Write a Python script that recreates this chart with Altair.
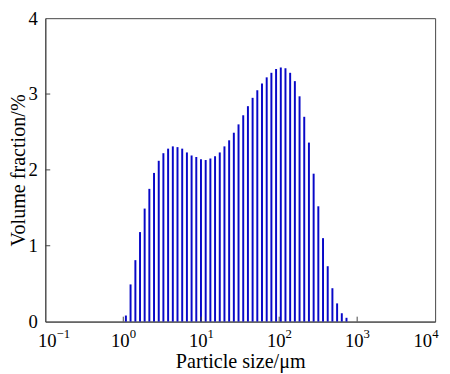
import altair as alt
import pandas as pd

# Particle size bins (µm) and volume fraction (%)
sizes = [1.08, 1.24, 1.43, 1.64, 1.88, 2.16, 2.48, 2.85, 3.27, 3.76,
         4.32, 4.96, 5.70, 6.55, 7.52, 8.64, 9.92, 11.40, 13.10, 15.04,
         17.28, 19.85, 22.80, 26.19, 30.08, 34.56, 39.70, 45.60, 52.38, 60.16,
         69.12, 79.40, 91.20, 104.8, 120.3, 138.2, 158.8, 182.4, 209.5, 240.6,
         276.5, 317.6, 364.8, 419.0, 481.3, 553.0, 635.2, 729.7]
fractions = [0.08, 0.49, 0.81, 1.18, 1.49, 1.75, 1.96, 2.12, 2.22, 2.28,
             2.31, 2.30, 2.28, 2.23, 2.19, 2.17, 2.14, 2.13, 2.15, 2.18,
             2.23, 2.31, 2.39, 2.49, 2.60, 2.72, 2.84, 2.95, 3.05, 3.14,
             3.22, 3.28, 3.33, 3.35, 3.34, 3.28, 3.17, 2.97, 2.70, 2.36,
             1.95, 1.52, 1.10, 0.73, 0.44, 0.24, 0.11, 0.05]

x_ticks = [0.1, 1, 10, 100, 1000, 10000]
x_tick_exponents = ["−1", "0", "1", "2", "3", "4"]
x_tick_pos = ["first", "mid", "mid", "mid", "mid", "last"]
y_ticks = [0, 1, 2, 3, 4]
x_inner_ticks = [1, 10, 100, 1000]
y_inner_ticks = [1, 2, 3]

W, H = 397, 309
FONT = "Liberation Serif"
AX = "#444444"
LBL = 19
EXP = 13

df = pd.DataFrame({"size": sizes, "frac": fractions})
tick_df = pd.DataFrame({"v": x_ticks, "e": x_tick_exponents, "p": x_tick_pos})

xscale = alt.Scale(type="log", domain=[0.1, 10000], nice=False)
yscale = alt.Scale(domain=[0, 4], nice=False)

bars = alt.Chart(df).mark_rule(color="#0808c8", strokeWidth=2).encode(
    x=alt.X("size:Q", scale=xscale,
            axis=alt.Axis(values=x_ticks, labels=False, ticks=False,
                          grid=False, title="Particle size/μm",
                          titlePadding=31, domainColor=AX)),
    y=alt.Y("frac:Q", scale=yscale,
            axis=alt.Axis(values=y_ticks, format="d", ticks=False, grid=False,
                          title="Volume fraction/%", labelPadding=8,
                          titlePadding=0, domainColor=AX)),
    y2=alt.datum(0),
)

xt = alt.Chart(pd.DataFrame({"v": x_inner_ticks})).mark_rule(color=AX, strokeWidth=1).encode(
    x=alt.X("v:Q", scale=xscale),
    y=alt.value(H),
    y2=alt.value(H - 5),
)
yt = alt.Chart(pd.DataFrame({"v": y_inner_ticks})).mark_rule(color=AX, strokeWidth=1).encode(
    y=alt.Y("v:Q", scale=yscale),
    x=alt.value(0),
    x2=alt.value(5),
)

base_y = H + 26
exp_y = H + 17
label_layers = []
# (position group, base align, base dx, exponent dx)
for pos, b_align, base_dx, exp_dx in [("first", "center", 2, 11.5),
                                       ("mid", "center", -3, 6.5),
                                       ("last", "right", -3, -3)]:
    sub = alt.Chart(tick_df).transform_filter(alt.datum.p == pos)
    label_layers.append(
        sub.mark_text(font=FONT, fontSize=LBL, align=b_align, baseline="alphabetic",
                      dx=base_dx, color="black").encode(
            x=alt.X("v:Q", scale=xscale), y=alt.value(base_y), text=alt.value("10"))
    )
    label_layers.append(
        sub.mark_text(font=FONT, fontSize=EXP, align="left", baseline="alphabetic",
                      dx=exp_dx, color="black").encode(
            x=alt.X("v:Q", scale=xscale), y=alt.value(exp_y), text="e:N")
    )

chart = alt.layer(bars, xt, yt, *label_layers).properties(
    width=W, height=H,
    autosize=alt.AutoSizeParams(type="none"),
    padding={"left": 38, "top": 7, "right": 7, "bottom": 50},
).configure(
    font=FONT
).configure_view(
    stroke=AX, strokeWidth=1
).configure_axis(
    labelFont=FONT, titleFont=FONT, labelFontSize=LBL, titleFontSize=20.5,
    labelColor="black", titleColor="black", titleFontWeight="normal",
    domainWidth=1,
)

chart.save("out.html", embed_options={"renderer": "svg", "actions": False})
